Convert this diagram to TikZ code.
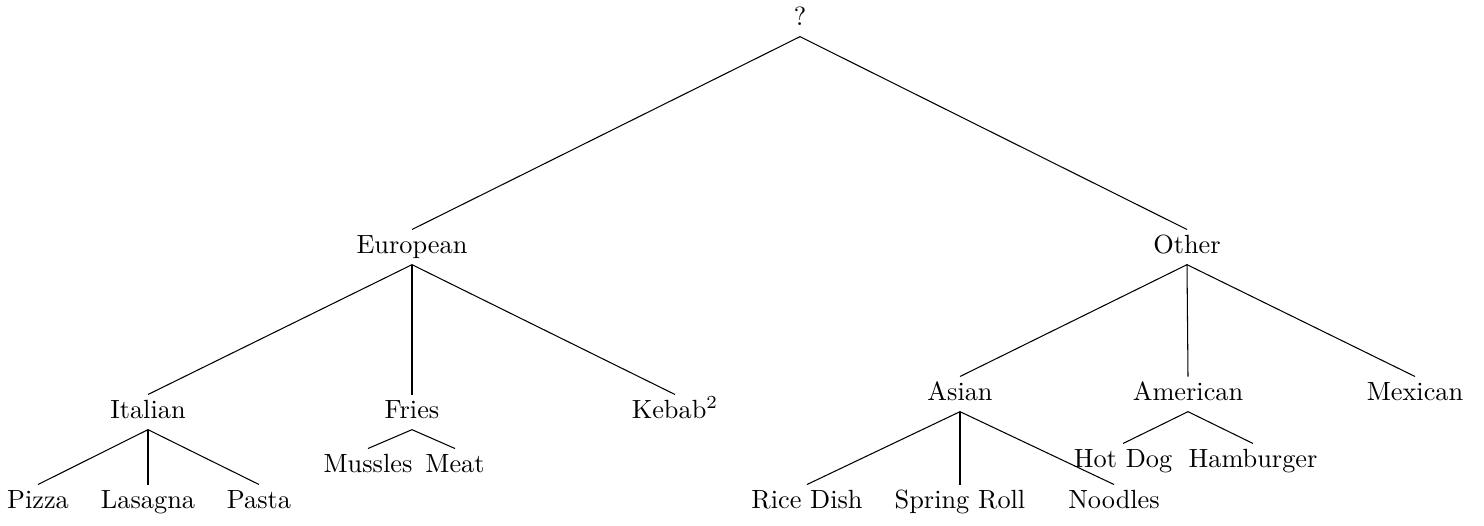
\documentclass[tikz,border=0pt]{standalone}
\begin{document}
\begin{tikzpicture}[x=0.38pt,y=-0.38pt,
  lbl/.style={anchor=base, text height=5.4pt, text depth=0.9pt, inner sep=3.33pt},
  branch/.style={draw=black, line width=0.4pt}]
\useasboundingbox (0,0) rectangle (1484,525);

% root
\node[lbl] (root) at (800,25) {?};

% first level
\node[lbl] (eu) at (412,253) {European};
\node[lbl] (ot) at (1187,253) {Other};

% European branch
\node[lbl] (it) at (148,418) {Italian};
\node[lbl] (fr) at (412,418) {Fries};
\node[lbl] (ke) at (675,418) {Kebab$^2$};

\node[lbl] (pi) at (38,508) {Pizza};
\node[lbl] (la) at (148,508) {Lasagna};
\node[lbl] (pa) at (259,508) {Pasta};

\node[lbl] (mu) at (368,472) {Mussles};
\node[lbl] (me) at (455,472) {Meat};

% Other branch
\node[lbl] (as) at (960,400) {Asian};
\node[lbl] (am) at (1188,400) {American};
\node[lbl] (mx) at (1415,400) {Mexican};

\node[lbl] (ri) at (807,508) {Rice Dish};
\node[lbl] (sp) at (960,508) {Spring Roll};
\node[lbl] (no) at (1114,508) {Noodles};

\node[lbl] (hd) at (1123,467) {Hot Dog};
\node[lbl] (hb) at (1253,467) {Hamburger};

% connectors
\foreach \p/\c in {root/eu, root/ot,
                   eu/it, eu/fr, eu/ke,
                   it/pi, it/la, it/pa,
                   fr/mu, fr/me,
                   ot/as, ot/am, ot/mx,
                   as/ri, as/sp, as/no,
                   am/hd, am/hb}
  \draw[branch] (\p.south) -- (\c.north);
\end{tikzpicture}
\end{document}
